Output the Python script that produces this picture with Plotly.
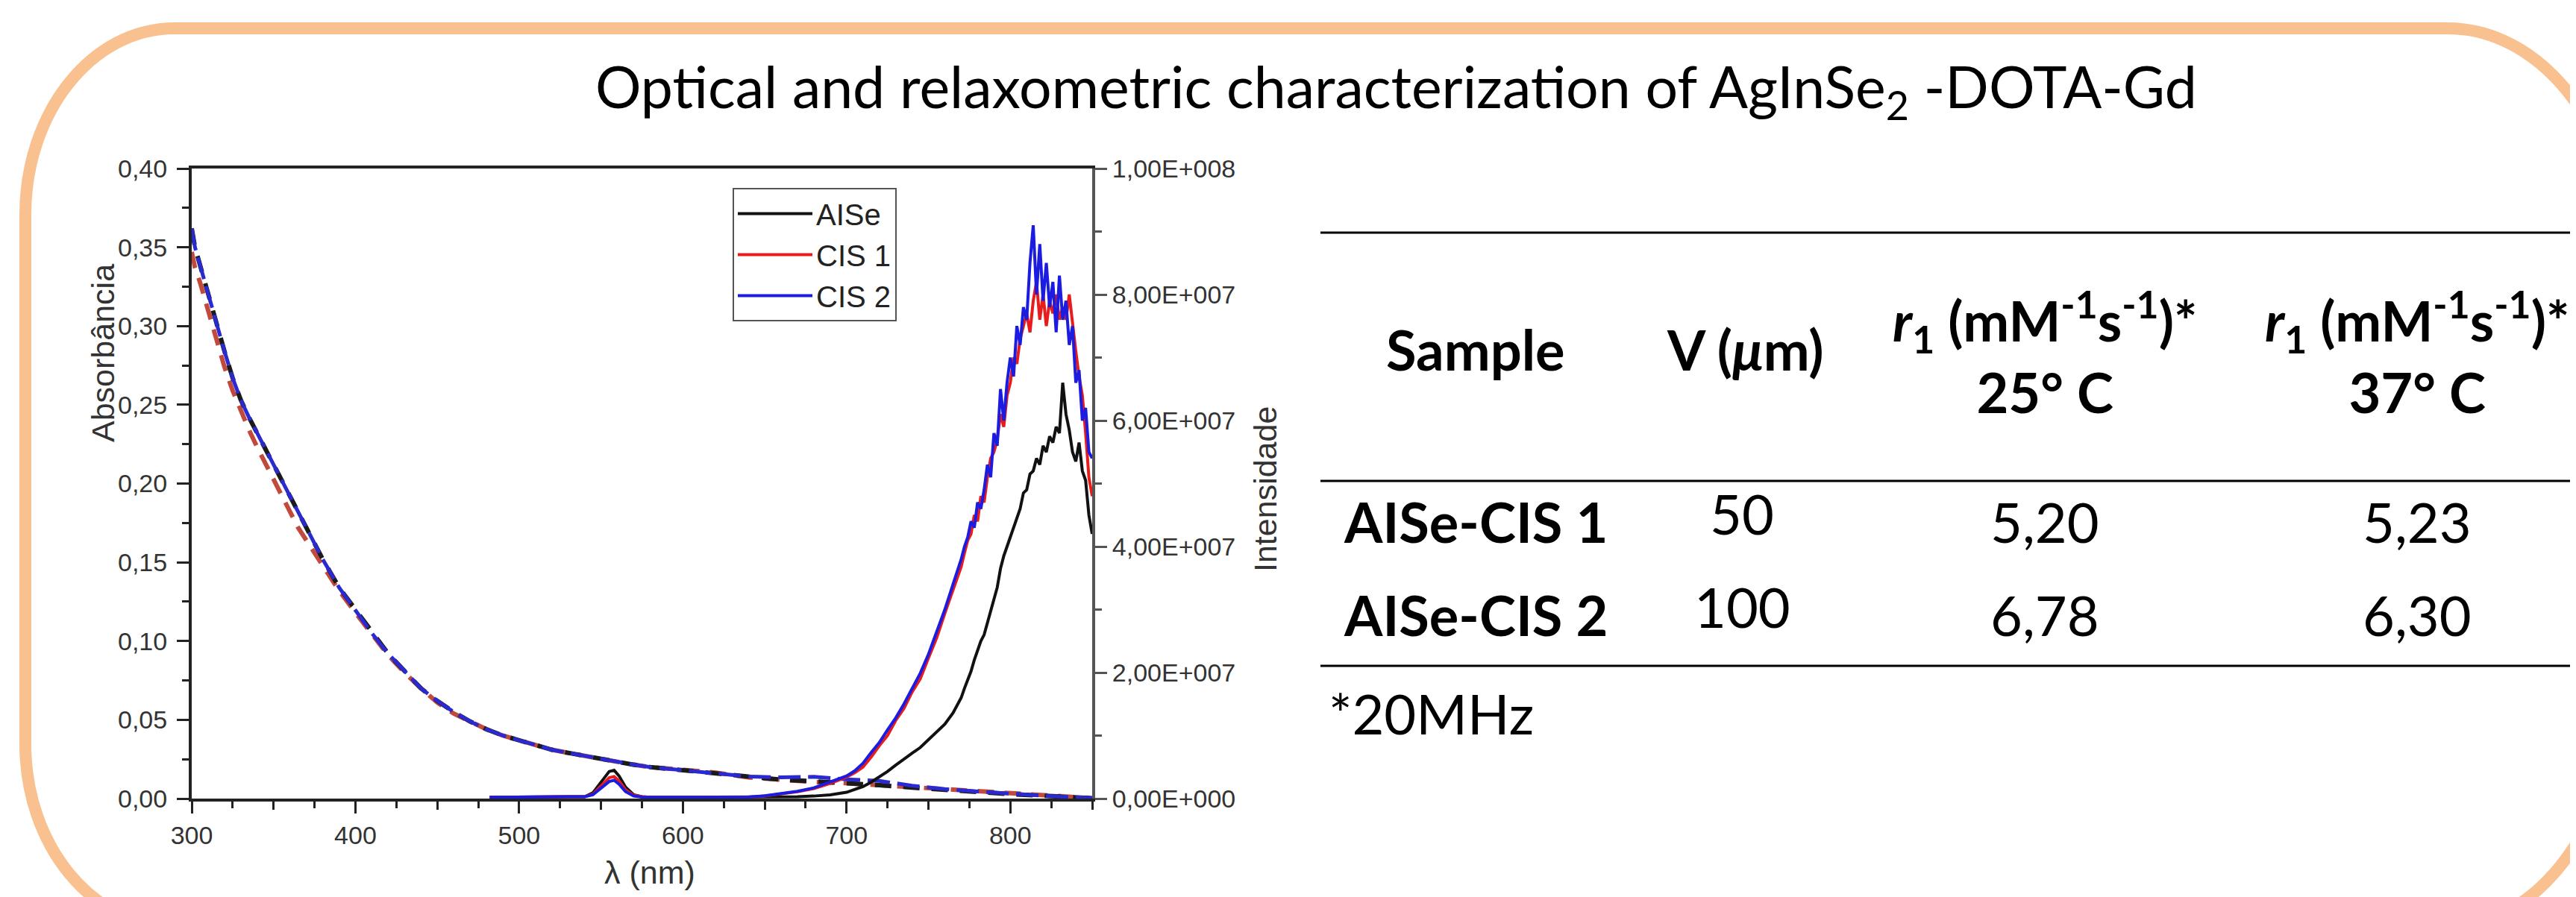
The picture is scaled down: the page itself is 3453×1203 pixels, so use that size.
import plotly.graph_objects as go

W, H = 3453, 1203

# ---------------- data ----------------
abs_wl = [300, 302, 305, 310, 315, 320, 325, 330, 335, 340, 345, 350, 355, 360, 365, 370, 375, 380,
          390, 400, 410, 420, 430, 440, 450, 460, 470, 480, 490, 500, 510, 520, 530, 540, 550, 560,
          570, 580, 590, 600, 620, 640, 660, 680, 700, 720, 740, 760, 780, 800, 820, 840, 850]
abs_aise = [0.362, 0.350, 0.339, 0.320, 0.302, 0.284, 0.267, 0.253, 0.242, 0.232, 0.222, 0.212, 0.202,
            0.193, 0.183, 0.172, 0.162, 0.152, 0.134, 0.120, 0.105, 0.092, 0.081, 0.070, 0.062, 0.055,
            0.049, 0.044, 0.040, 0.037, 0.034, 0.031, 0.029, 0.027, 0.025, 0.023, 0.0215, 0.020, 0.019,
            0.018, 0.016, 0.014, 0.012, 0.011, 0.010, 0.0085, 0.007, 0.0055, 0.004, 0.0028, 0.0018,
            0.0008, 0.0003]
abs_cis1 = [0.347, 0.337, 0.328, 0.310, 0.291, 0.274, 0.259, 0.246, 0.234, 0.223, 0.213, 0.203, 0.192,
            0.182, 0.172, 0.164, 0.156, 0.148, 0.132, 0.118, 0.104, 0.091, 0.080, 0.070, 0.061, 0.054,
            0.049, 0.044, 0.040, 0.037, 0.034, 0.031, 0.029, 0.027, 0.025, 0.023, 0.0215, 0.020, 0.019,
            0.018, 0.0165, 0.0135, 0.0118, 0.0105, 0.0098, 0.0085, 0.0072, 0.0056, 0.0042, 0.0029,
            0.0018, 0.0008, 0.0003]
abs_cis2 = [0.362, 0.350, 0.339, 0.320, 0.302, 0.284, 0.267, 0.253, 0.242, 0.232, 0.222, 0.212, 0.202,
            0.193, 0.183, 0.172, 0.162, 0.152, 0.134, 0.120, 0.105, 0.092, 0.081, 0.070, 0.062, 0.055,
            0.049, 0.044, 0.040, 0.037, 0.034, 0.031, 0.029, 0.027, 0.025, 0.023, 0.0215, 0.020, 0.019,
            0.018, 0.016, 0.014, 0.0135, 0.0138, 0.0122, 0.0112, 0.0082, 0.0060, 0.0045, 0.0030,
            0.0018, 0.0008, 0.0003]

# emission intensity (in units of 10^6 counts)
em_wl = [482, 490, 500, 510, 520, 530, 540, 545, 550, 555, 558, 561, 565, 570, 575, 580, 590, 600,
         610, 620, 630, 640, 650, 660, 670, 680, 690, 700, 705, 710, 715, 720, 725, 730, 735, 740,
         745, 750, 755, 760, 765, 770,
         772, 774, 776, 778, 780, 782, 784, 786, 788, 790, 792, 794, 796, 798, 800, 802, 804, 806,
         808, 810, 812, 814, 816, 818, 820, 822, 824, 826, 828, 830, 832, 834, 836, 838, 840, 842,
         844, 846, 848, 850]
em_aise = [0.2, 0.2, 0.2, 0.2, 0.2, 0.2, 0.3, 0.9, 2.6, 4.3, 4.5, 3.6, 1.8, 0.6, 0.3, 0.2, 0.2, 0.2,
           0.2, 0.2, 0.2, 0.2, 0.2, 0.25, 0.3, 0.4, 0.6, 1.0, 1.4, 1.9, 2.6, 3.4, 4.3, 5.3, 6.3, 7.2,
           8.1, 9.3, 10.6, 11.8, 13.6, 16.0,
           17.5, 18.8, 20.2, 22.0, 23.5, 25.0, 26.0, 27.8, 29.5, 31.5, 33.5, 36.5, 38.5, 40.0, 41.5,
           43.0, 44.5, 46.0, 48.5, 49.0, 51.5, 52.0, 54.0, 53.0, 56.0, 55.0, 57.5, 56.5, 59.0, 58.0,
           66.0, 61.0, 58.5, 55.0, 53.5, 56.5, 52.0, 50.5, 45.0, 42.0]
em_cis1 = [0.2, 0.2, 0.2, 0.2, 0.2, 0.2, 0.3, 0.7, 2.0, 3.3, 3.5, 2.8, 1.4, 0.5, 0.3, 0.2, 0.2, 0.2,
           0.2, 0.2, 0.2, 0.25, 0.4, 0.7, 1.1, 1.6, 2.4, 3.4, 4.1, 5.0, 6.6, 8.4, 10.0, 12.4, 14.3,
           16.9, 19.0, 22.3, 25.5, 29.4, 33.0, 36.8,
           39.0, 41.0, 42.0, 45.0, 44.0, 48.0, 47.0, 51.0, 54.0, 55.0, 57.0, 61.0, 59.0, 64.0, 66.0,
           70.0, 69.0, 73.0, 75.0, 77.0, 74.0, 79.0, 82.0, 76.0, 80.0, 75.0, 79.0, 77.0, 80.0, 76.0,
           78.0, 76.0, 80.0, 75.0, 71.0, 67.0, 64.0, 58.0, 51.0, 48.0]
em_cis2 = [0.2, 0.2, 0.2, 0.2, 0.2, 0.2, 0.3, 0.6, 1.6, 2.7, 2.9, 2.3, 1.1, 0.4, 0.25, 0.2, 0.2, 0.2,
           0.2, 0.2, 0.2, 0.25, 0.45, 0.75, 1.15, 1.7, 2.6, 3.6, 4.4, 5.6, 7.3, 8.9, 10.9, 12.8, 15.0,
           17.4, 19.9, 22.9, 26.4, 30.0, 34.0, 38.0,
           40.0, 41.5, 44.0, 43.0, 47.0, 46.0, 49.0, 53.0, 51.0, 58.0, 56.0, 65.0, 60.0, 66.0, 70.0,
           67.0, 75.0, 72.0, 78.0, 76.0, 85.0, 91.0, 80.0, 88.0, 79.0, 85.0, 78.0, 82.0, 74.0, 83.0,
           76.0, 79.0, 72.0, 75.0, 66.0, 68.0, 60.0, 62.0, 55.0, 54.0]

series_names = ["AISe", "CIS 1", "CIS 2"]

x_tickvals = [300, 400, 500, 600, 700, 800]
x_ticktext = ["300", "400", "500", "600", "700", "800"]
x_mid_ticks = [350, 450, 550, 650, 750, 850]
y_tickvals = [0.00, 0.05, 0.10, 0.15, 0.20, 0.25, 0.30, 0.35, 0.40]
y2_tickvals = [0, 20, 40, 60, 80, 100]
y2_ticktext = ["0,00E+000", "2,00E+007", "4,00E+007", "6,00E+007", "8,00E+007", "1,00E+008"]

table_title = "Optical and relaxometric characterization of AgInSe<sub>2</sub> -DOTA-Gd"
table_headers = ["<b>Sample</b>", "<b>V (<i>μ</i>m)</b>",
                 "<b><i>r</i><sub>1</sub> (mM<sup>-1</sup>s<sup>-1</sup>)*<br>25° C</b>",
                 "<b><i>r</i><sub>1</sub> (mM<sup>-1</sup>s<sup>-1</sup>)*<br>37° C</b>"]
samples = ["AISe-CIS 1", "AISe-CIS 2"]
sizes_um = ["50", "100"]
r1_25 = ["5,20", "6,78"]
r1_37 = ["5,23", "6,30"]
footnote = "*20MHz"

# ---------------- helpers ----------------
def fx(x):
    return x / W


def fy(y):
    return 1 - y / H


CHART_FONT = "Liberation Sans, Arial, sans-serif"
TABLE_FONT = "Lato, Carlito, Calibri, sans-serif"

fig = go.Figure()

abs_styles = [("#c24a3c", "22px,14px", 6), ("#1a1a1a", "22px,16px", 6), ("#2a2ad0", "30px,10px", 5)]
for ys, (col, dash, w) in zip([abs_cis1, abs_aise, abs_cis2], abs_styles):
    fig.add_trace(go.Scatter(x=abs_wl, y=ys, mode="lines", yaxis="y", showlegend=False,
                             line=dict(color=col, dash=dash, width=w)))

em_colors = ["#111111", "#e81c1c", "#1c1ce0"]
for name, ys, col in zip(series_names, [em_aise, em_cis1, em_cis2], em_colors):
    fig.add_trace(go.Scatter(x=em_wl, y=ys, mode="lines", yaxis="y2", name=name,
                             line=dict(color=col, width=4)))

tickfont = dict(family=CHART_FONT, size=34, color="#333333")
x_dom = [fx(249), fx(1456)]

fig.update_layout(
    width=W, height=H, autosize=False, template="none",
    margin=dict(l=0, r=0, t=0, b=0, pad=0),
    paper_bgcolor="white", plot_bgcolor="white",
    separators=",.",
    showlegend=True,
    legend=dict(x=fx(974), y=fy(244), xanchor="left", yanchor="top",
                bordercolor="#555555", borderwidth=2, bgcolor="white",
                font=dict(family=CHART_FONT, size=40, color="#222222"),
                itemwidth=100, tracegroupgap=0),
    xaxis=dict(domain=x_dom, range=[300, 850], anchor="y",
               tickmode="array", tickvals=x_tickvals, ticktext=x_ticktext,
               ticks="outside", ticklen=16, tickwidth=3, tickcolor="#222222",
               minor=dict(dtick=25, tick0=300, ticks="outside", ticklen=9, tickwidth=3,
                          tickcolor="#222222", showgrid=False),
               showline=True, linecolor="#222222", linewidth=4, mirror=True,
               showgrid=False, zeroline=False, tickfont=tickfont, automargin=False),
    xaxis2=dict(domain=x_dom, range=[300, 850], anchor="y", overlaying="x", side="bottom",
                tickmode="array", tickvals=x_mid_ticks, showticklabels=False,
                ticks="outside", ticklen=14, tickwidth=3, tickcolor="#222222",
                showline=False, showgrid=False, zeroline=False, automargin=False),
    yaxis=dict(domain=[fy(1063), fy(218)], range=[0, 0.40], anchor="x",
               tickmode="array", tickvals=y_tickvals, tickformat=".2f",
               ticks="outside", ticklen=16, tickwidth=3, tickcolor="#222222",
               ticklabelstandoff=6,
               minor=dict(dtick=0.025, tick0=0, ticks="outside", ticklen=9, tickwidth=3,
                          tickcolor="#222222", showgrid=False),
               showline=True, linecolor="#222222", linewidth=4,
               showgrid=False, zeroline=False, tickfont=tickfont, automargin=False),
    yaxis2=dict(overlaying="y", side="right", anchor="x", range=[0, 100],
                tickmode="array", tickvals=y2_tickvals, ticktext=y2_ticktext,
                ticks="outside", ticklen=16, tickwidth=3, tickcolor="#555555",
                minor=dict(dtick=10, tick0=0, ticks="outside", ticklen=9, tickwidth=3,
                           tickcolor="#555555", showgrid=False),
                showline=True, linecolor="#555555", linewidth=4,
                showgrid=False, zeroline=False, tickfont=tickfont, automargin=False),
)

# invisible carrier trace so the helper x-axis (mid ticks) is drawn
fig.add_trace(go.Scatter(x=[300, 850], y=[0, 0], xaxis="x2", yaxis="y", mode="lines",
                         line=dict(width=0), showlegend=False, hoverinfo="skip"))

annotations = []


def add_text(text, x, y, size, family, xanchor="center", yanchor="middle", angle=0, color="black"):
    annotations.append(dict(text=text, x=fx(x), y=fy(y), xref="paper", yref="paper",
                            xanchor=xanchor, yanchor=yanchor, showarrow=False, textangle=angle,
                            font=dict(family=family, size=size, color=color)))


# axis titles
add_text("λ (nm)", 863, 1162, 43, CHART_FONT, color="#333333")
add_text("Absorbância", 130, 466, 43, CHART_FONT, angle=-90, color="#333333")
add_text("Intensidade", 1688, 648, 43, CHART_FONT, angle=-90, color="#333333")

# title
add_text(table_title, 1864, 112, 77, TABLE_FONT)

# table
col_x = [1970, 2331, 2733, 3232]
header_y = [461, 461, 465, 465]
for t, cx, cy in zip(table_headers, col_x, header_y):
    add_text(t, cx, cy, 74, TABLE_FONT)

row_y = [691, 816]
for i in range(len(samples)):
    ry = row_y[i]
    add_text("<b>" + samples[i] + "</b>", col_x[0], ry, 74, TABLE_FONT)
    add_text(sizes_um[i], col_x[1] - 4, ry - 11, 74, TABLE_FONT)
    add_text(r1_25[i], col_x[2], ry, 74, TABLE_FONT)
    add_text(r1_37[i], col_x[3], ry, 74, TABLE_FONT)

add_text(footnote, 1771, 948, 74, TABLE_FONT, xanchor="left")

fig.update_layout(annotations=annotations)

# shapes: table rules + rounded orange frame
shapes = []
for ly in [304, 637, 885]:
    shapes.append(dict(type="line", xref="paper", yref="paper", x0=fx(1762), x1=fx(3470),
                       y0=fy(ly), y1=fy(ly), line=dict(color="black", width=3)))

L, T, R, B = 26, 30, 3513, 1235
k = 0.5523
tl = (200, 250)
tr = (240, 330)
br = (240, 367)
bl = (200, 245)


def P(x, y):
    return f"{fx(x):.5f},{fy(y):.5f}"


path = "M" + P(L + tl[0], T)
path += " L" + P(R - tr[0], T)
path += " C" + P(R - tr[0] + k * tr[0], T) + " " + P(R, T + tr[1] - k * tr[1]) + " " + P(R, T + tr[1])
path += " L" + P(R, B - br[1])
path += " C" + P(R, B - br[1] + k * br[1]) + " " + P(R - br[0] + k * br[0], B) + " " + P(R - br[0], B)
path += " L" + P(L + bl[0], B)
path += " C" + P(L + bl[0] - k * bl[0], B) + " " + P(L, B - bl[1] + k * bl[1]) + " " + P(L, B - bl[1])
path += " L" + P(L, T + tl[1])
path += " C" + P(L, T + tl[1] - k * tl[1]) + " " + P(L + tl[0] - k * tl[0], T) + " " + P(L + tl[0], T)
path += " Z"
shapes.append(dict(type="path", xref="paper", yref="paper", path=path,
                   line=dict(color="#F9C190", width=16), fillcolor="rgba(0,0,0,0)", layer="below"))

fig.update_layout(shapes=shapes)

fig.write_html("out.html")
